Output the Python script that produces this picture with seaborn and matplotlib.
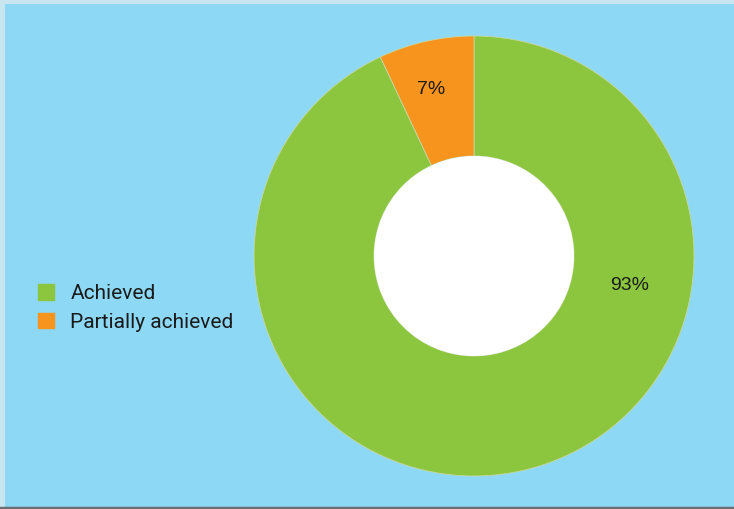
import matplotlib
matplotlib.use("Agg")
import matplotlib.pyplot as plt
import matplotlib.patches as mpatches
import seaborn as sns
import numpy as np

categories = ["Achieved", "Partially achieved"]
values = [93, 7]
labels = ["93%", "7%"]
colors = ["#8CC63F", "#F7941D"]
bg = "#8DD8F5"

sns.set_theme(style="white")
plt.rcParams["font.family"] = ["Roboto", "DejaVu Sans"]

W, H = 734, 509
fig = plt.figure(figsize=(W / 100, H / 100), dpi=100)
fig.patch.set_facecolor("#C9E6F0")

# inner panel background
panel = fig.add_axes([5 / W, 2 / H, (W - 5) / W, (H - 6) / H])
panel.set_facecolor(bg)
panel.set_xticks([]); panel.set_yticks([])
for s in panel.spines.values():
    s.set_visible(False)
# dark bottom line
fig.add_artist(plt.Line2D([0, 1], [1.5 / H, 1.5 / H], color="#6b6f73", lw=2.5, transform=fig.transFigure))

cx, cy, R = 474, 256, 220
ax = fig.add_axes([(cx - R) / W, (H - cy - R) / H, 2 * R / W, 2 * R / H])
ax.set_facecolor("none")
wedges, _ = ax.pie(values, colors=colors, startangle=90, counterclock=False,
                   radius=1.0, wedgeprops=dict(width=120 / 220, edgecolor="#c8d8a0", linewidth=0.6))
ax.add_patch(mpatches.Circle((0, 0), 100 / 220, facecolor="white", edgecolor="none", zorder=3))
ax.set_xlim(-1, 1); ax.set_ylim(-1, 1)
ax.set_aspect("equal")

label_pos = [(0.72, -10.6), (0.78, 104.4)]
for lab, (r, a) in zip(labels, label_pos):
    ax.text(r * np.cos(np.radians(a)), r * np.sin(np.radians(a)), lab,
            ha="center", va="center", fontsize=14, color="#1a1a1a",
            family=["Liberation Sans", "DejaVu Sans"])

handles = [mpatches.Patch(color=c, label=l) for c, l in zip(colors, categories)]
leg = fig.legend(handles=handles, loc="center left", bbox_to_anchor=(38 / W, 1 - 308 / H),
                 frameon=False, fontsize=15, handlelength=0.75, handleheight=0.75,
                 handletextpad=0.8, labelspacing=0.45, borderaxespad=0, borderpad=0)
for t in leg.get_texts():
    t.set_color("#1a1a1a")

fig.savefig("out.png", dpi=100, facecolor=fig.get_facecolor())
